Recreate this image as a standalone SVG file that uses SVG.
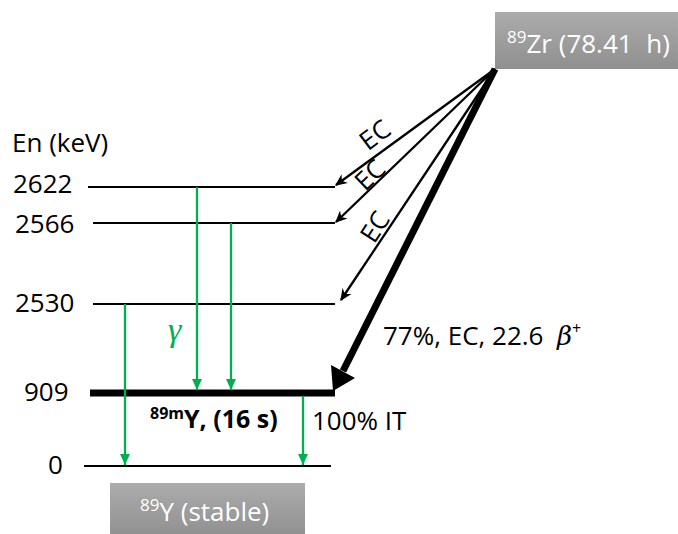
<svg xmlns="http://www.w3.org/2000/svg" width="678" height="534" viewBox="0 0 678 534">
<defs>
<linearGradient id="gbox" x1="0" y1="0" x2="0" y2="1">
<stop offset="0" stop-color="#acacac"/>
<stop offset="1" stop-color="#8f8f8f"/>
</linearGradient>
<marker id="ga" viewBox="0 0 10 10" refX="10" refY="5" markerWidth="11" markerHeight="11" markerUnits="userSpaceOnUse" orient="auto">
<path d="M0,0.5 L10,5 L0,9.5 z" fill="#00b050"/>
</marker>
<marker id="ka" viewBox="0 0 10 10" refX="9" refY="5" markerWidth="12" markerHeight="12" markerUnits="userSpaceOnUse" orient="auto">
<path d="M0,0.5 L10,5 L0,9.5 L3,5 z" fill="#000"/>
</marker>
</defs>
<style>
text{font-family:"Open Sans","DejaVu Sans",sans-serif;font-size:26px;fill:#000}
text.wt{fill:#fff}
text.bd{font-weight:bold;font-size:25px}
text.gm{font-family:"Liberation Serif",serif;font-style:italic;font-size:34px;fill:#00b050}
.lv{stroke:#000;stroke-width:2;fill:none}
.gr{stroke:#00b050;stroke-width:2.3;fill:none;marker-end:url(#ga)}
.ec{stroke:#000;stroke-width:2.3;fill:none;marker-end:url(#ka)}
</style>
<rect width="678" height="534" fill="#fff"/>
<g id="levels">
<line class="lv" x1="88" y1="187" x2="335" y2="187"/>
<line class="lv" x1="93" y1="223" x2="335" y2="223"/>
<line class="lv" x1="93" y1="304" x2="335" y2="304"/>
<line x1="90" y1="393" x2="335" y2="393" stroke="#000" stroke-width="7"/>
<line class="lv" x1="84" y1="466" x2="331" y2="466"/>
</g>
<g id="axis-labels">
<text x="12" y="152">En (keV)</text>
<text x="13" y="193">2622</text>
<text x="15" y="233">2566</text>
<text x="15" y="312">2530</text>
<text x="24" y="401">909</text>
<text x="48" y="474">0</text>
</g>
<g id="zr89">
<rect x="495" y="12" width="190" height="57" fill="url(#gbox)"/>
<text class="wt" x="507" y="53"><tspan font-size="17" dy="-10">89</tspan><tspan dy="10">Zr (78.41&#160; h)</tspan></text>
</g>
<g id="y89">
<rect x="110" y="483" width="195" height="55" fill="url(#gbox)"/>
<text class="wt" x="140" y="521"><tspan font-size="17" dy="-10">89</tspan><tspan dy="10">Y (stable)</tspan></text>
</g>
<g id="y89m">
<text class="bd" x="150" y="428"><tspan font-size="16" dy="-9">89m</tspan><tspan dy="9">Y, (16 s)</tspan></text>
</g>
<g id="connectors">
<line class="ec" x1="495" y1="69" x2="336" y2="185"/>
<line class="ec" x1="495" y1="69" x2="336" y2="222"/>
<line class="ec" x1="495" y1="69" x2="341" y2="300"/>
<line x1="495" y1="69" x2="343" y2="371" stroke="#000" stroke-width="7"/>
<polygon points="333,391 331,365 355,378" fill="#000"/>
<line class="gr" x1="197" y1="187" x2="197" y2="390"/>
<line class="gr" x1="231" y1="223" x2="231" y2="390"/>
<line class="gr" x1="125" y1="304" x2="125" y2="465"/>
<line class="gr" x1="303" y1="396" x2="303" y2="465"/>
</g>
<g id="connector-labels">
<text x="375" y="144" text-anchor="middle" transform="rotate(-37 375 135)">EC</text>
<text x="370" y="184" text-anchor="middle" transform="rotate(-44 370 175)">EC</text>
<text x="375" y="236" text-anchor="middle" transform="rotate(-57 375 227)">EC</text>
<text x="383" y="345">77%, EC, 22.6&#160; <tspan font-family="'DejaVu Serif',serif" font-style="italic">β</tspan><tspan font-size="16" dy="-11">+</tspan></text>
<text x="312" y="430">100% IT</text>
<text class="gm" x="168" y="341">γ</text>
</g>
</svg>
